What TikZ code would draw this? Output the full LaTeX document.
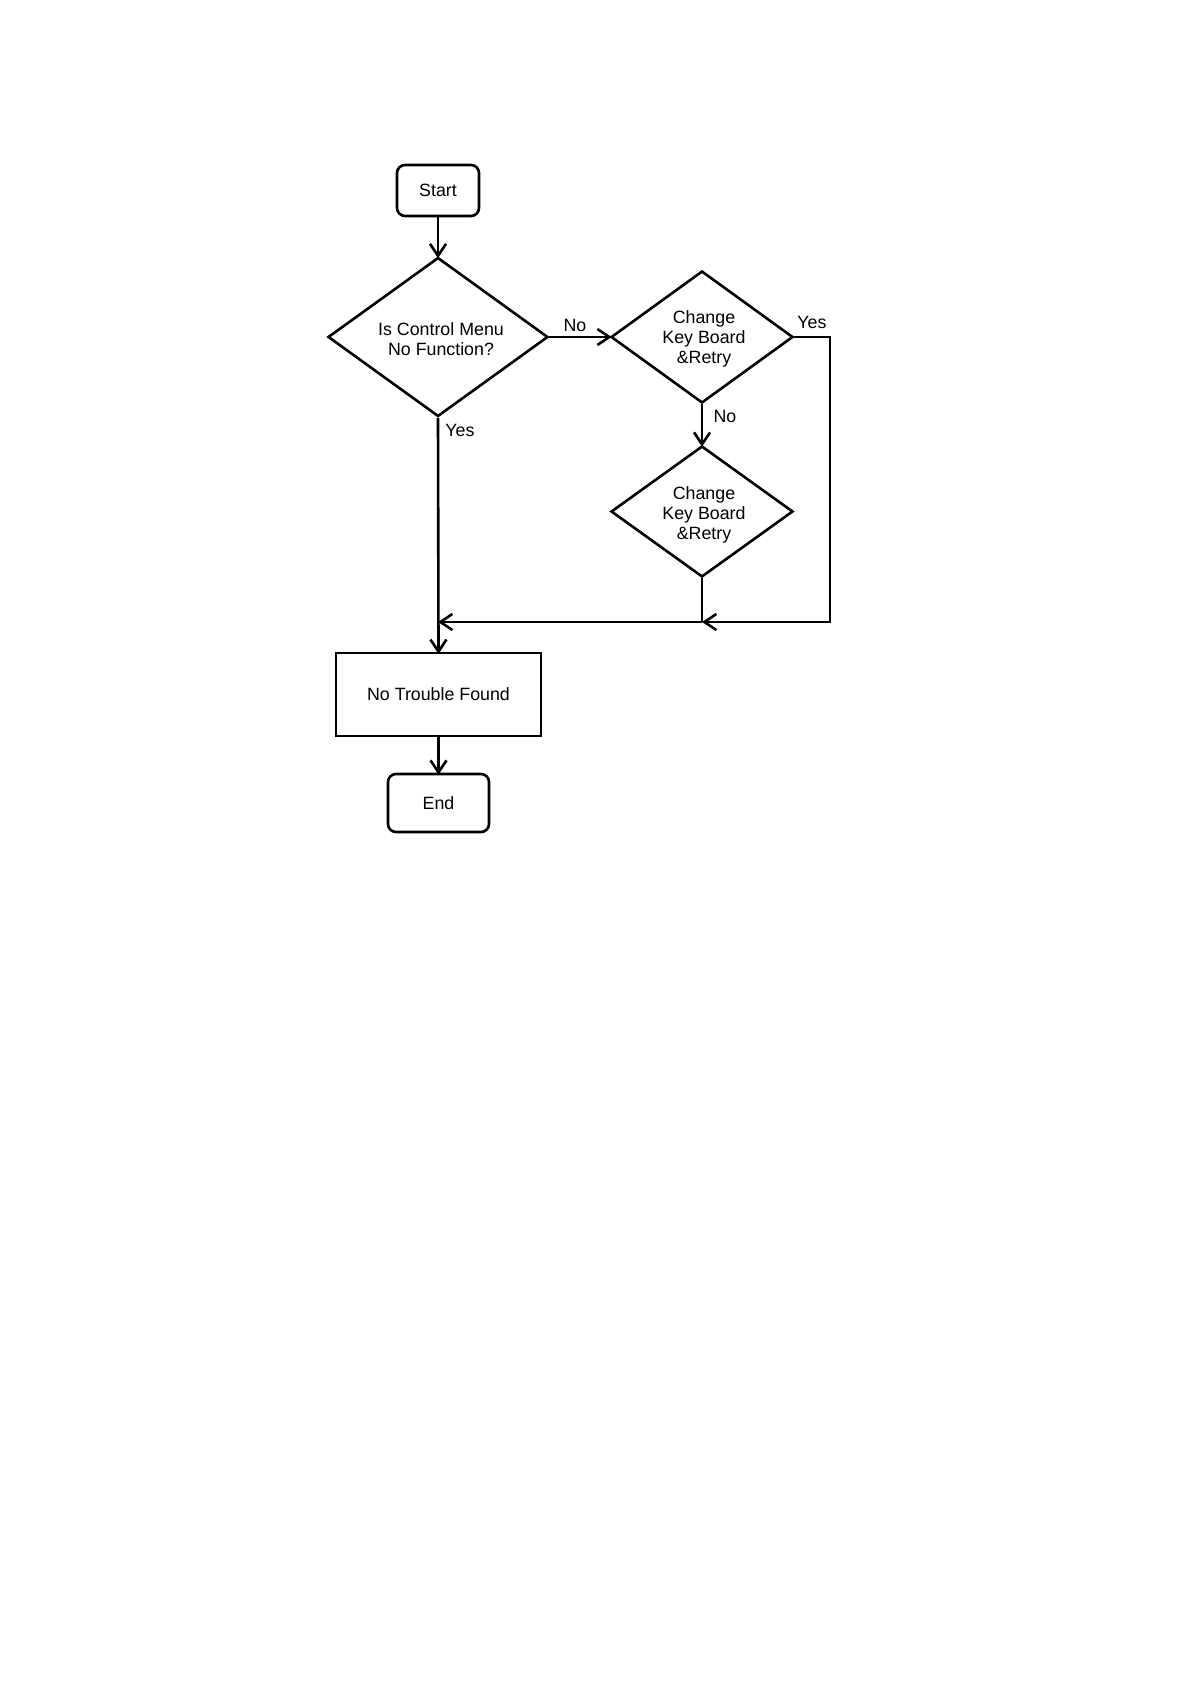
\documentclass[tikz,border=0pt]{standalone}
\usepackage{fontspec}
\setmainfont{Liberation Sans}
\usetikzlibrary{shapes.geometric,arrows.meta}
\begin{document}
\begin{tikzpicture}[x=0.5pt,y=-0.5pt,
  every node/.style={font=\fontsize{8.9pt}{10pt}\selectfont, align=center, inner sep=0pt},
  terminal/.style={draw, line width=1.3pt, rounded corners=4pt},
  procbox/.style={draw, line width=1.1pt},
  decision/.style={draw, diamond, line width=1.3pt},
  conn/.style={line width=1.3pt},
  arr/.style={conn, shorten >=-1pt, -{Straight Barb[length=6pt,width=8pt,line width=1.3pt]}},
  lbl/.style={font=\fontsize{8.9pt}{10pt}\selectfont}
]
\useasboundingbox (0,0) rectangle (1190,1684);
\fill[white] (0,0) rectangle (1190,1684);

\node[terminal, minimum width=41pt, minimum height=25.5pt] (start) at (438,190.5) {Start};
\node[decision, minimum width=110pt, minimum height=79.5pt] (d1) at (438,337) {};
\node at (441,339) {Is Control Menu\\No Function?};
\node[decision, minimum width=91pt, minimum height=66pt] (d2) at (702,337) {};
\node at (704,339) {Change\\Key Board\\\&Retry};
\node[decision, minimum width=91pt, minimum height=65.5pt] (d3) at (702,511.5) {};
\node at (704,515) {Change\\Key Board\\\&Retry};
\node[procbox, minimum width=102.5pt, minimum height=41.5pt] (ntf) at (438.5,694.5) {No Trouble Found};
\node[terminal, minimum width=50.5pt, minimum height=29pt] (end) at (438.5,803) {End};

\coordinate (c1) at (830,337);
\coordinate (j1) at (702,622);
\coordinate (j2) at (438,622);

\draw[arr] (start) -- (d1.north);
\draw[arr] (d1.east) -- (d2.west);
\draw[arr] (d2.south) -- (d3.north);
\draw[arr] (d1.south) -- (ntf.north);
\draw[arr] (ntf.south) -- (end.north);
\draw[conn] (d3.south) -- (j1);
\draw[arr, shorten >=0pt] (d2.east) -- (c1) |- (j1);
\draw[arr, shorten >=0pt] (j1) -- (j2);

\node[lbl] (lno1) at (575,325) {No};
\node[lbl] (lyes1) at (460,430) {Yes};
\node[lbl] (lyes2) at (812,322) {Yes};
\node[lbl] (lno2) at (725,416) {No};
\end{tikzpicture}
\end{document}
